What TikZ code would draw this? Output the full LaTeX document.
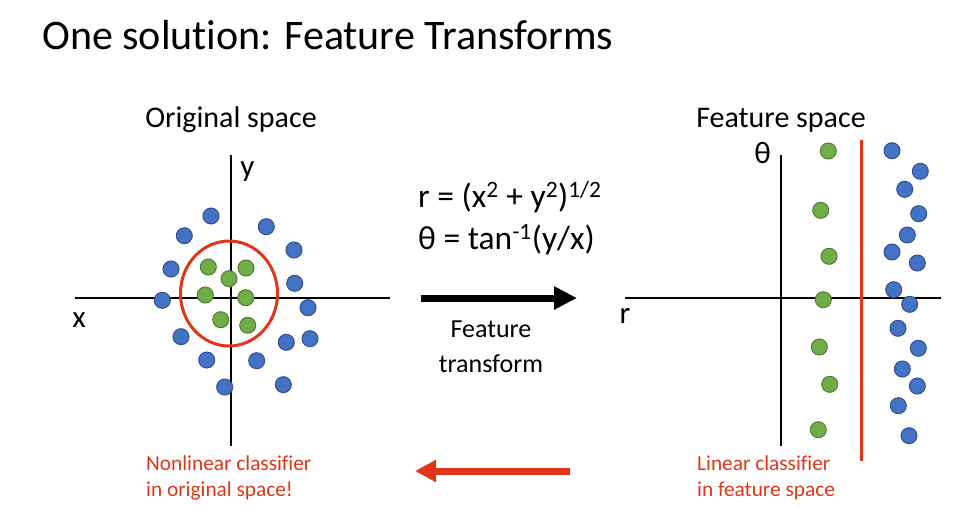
\documentclass[tikz,border=0pt]{standalone}
\usepackage{fontspec}
\setmainfont{Carlito}[RawFeature={-liga;-clig;-calt;-dlig}]
\usepackage{xcolor}
\usepackage{tikz}
\usetikzlibrary{positioning,arrows.meta}

\definecolor{dotblue}{RGB}{68,114,196}
\definecolor{dotblueline}{RGB}{47,82,143}
\definecolor{dotgreen}{RGB}{112,173,71}
\definecolor{dotgreenline}{RGB}{80,126,50}
\definecolor{clsred}{RGB}{226,52,24}

\tikzset{
  axis/.style={line width=2pt, black},
  bluedot/.style={fill=dotblue, draw=dotblueline, line width=1pt},
  greendot/.style={fill=dotgreen, draw=dotgreenline, line width=1pt},
  axlabel/.style={anchor=base, font=\fontsize{31}{35}\selectfont},
  heading/.style={anchor=base, font=\fontsize{30}{34}\selectfont},
  redtext/.style={anchor=west, align=left, text=clsred, font=\fontsize{21.3}{26.5}\selectfont},
}

\begin{document}
\begin{tikzpicture}[x=1pt, y=-1pt]
                \useasboundingbox (0,0) rectangle (965,508);
                \node[anchor=base west, font=\fontsize{42}{46}\selectfont, inner sep=0] (title) at (42,50) {One solution: Feature Transforms};
                \node[heading] (origlbl) at (231,128) {Original space};
                \node[heading] (featlbl) at (781,127) {Feature space};

                \coordinate (xl) at (75,298);
                \coordinate (xr) at (390,298);
                \coordinate (yt) at (231,155);
                \coordinate (yb) at (231,446);
                \draw[axis] (xl) -- (xr);
                \draw[axis] (yt) -- (yb);
                \node[axlabel] (xlbl) at (79,327) {x};
                \node[axlabel] (ylbl) at (247.5,176) {y};

                \foreach \px/\py in {211/216, 184.3/235.7, 266.3/226.7, 294/250, 171/269, 294.7/283.3, 162.3/300.3, 308/307.7, 181/336.7, 310/338.7, 286.3/342.3, 206.7/360, 256.7/360.7, 224.7/387, 283.3/384.7}
                  \draw[bluedot] (\px,\py) circle (8pt);
                \foreach \px/\py in {208.3/267, 246/268, 229/278.7, 205.3/295, 245.7/297.7, 220.7/319.7, 247.7/325.3}
                  \draw[greendot] (\px,\py) circle (8pt);
                \draw[clsred, line width=3pt] (229,293.5) ellipse [x radius=48.5pt, y radius=52.5pt];

                \coordinate (rl) at (625,298);
                \coordinate (rr) at (941,298);
                \coordinate (tt) at (781,155);
                \coordinate (tb) at (781,446);
                \draw[axis] (rl) -- (rr);
                \draw[axis] (tt) -- (tb);
                \node[axlabel] (rlbl) at (625,323) {r};
                \node[axlabel] (tlbl) at (762.5,163.5) {θ};

                \coordinate (sepTop) at (861,140);
                \coordinate (sepBot) at (861,461);
                \draw[clsred, line width=3pt] (sepTop) -- (sepBot);
                \foreach \px/\py in {828.3/151, 820.7/210.3, 829/256.3, 823.3/299.7, 819.3/347, 829.7/384.3, 818.3/429.7}
                  \draw[greendot] (\px,\py) circle (8pt);
                \foreach \px/\py in {892/150.7, 920.3/171.3, 904.7/189.3, 918.7/213.7, 907.3/235, 892/252, 917.3/263, 893.7/289.7, 909.7/304.3, 898/328.3, 918.3/348.3, 902.3/369, 917.3/386, 898.3/405.7, 909/435.7}
                  \draw[bluedot] (\px,\py) circle (8pt);

                \node[anchor=base west, font=\fontsize{33.5}{37}\selectfont, inner sep=0] (eqr) at (418,207) {r = (x\textsuperscript{2} + y\textsuperscript{2})\textsuperscript{1/2}};
                \node[anchor=base west, font=\fontsize{33.5}{37}\selectfont, inner sep=0] (eqt) at (418,249) {θ = tan\textsuperscript{-1}(y/x)};

                \coordinate (ftStart) at (421,298);
                \coordinate (ftEnd) at (577,298);
                \draw[line width=7pt, -{Triangle[length=23pt,width=22pt]}] (ftStart) -- (ftEnd);
                \node[anchor=center, align=center, font=\fontsize{26}{35}\selectfont] (ftlbl) at (491,347) {Feature\\transform};

                \coordinate (backStart) at (570,471);
                \coordinate (backEnd) at (415,471);
                \draw[clsred, line width=7pt, -{Triangle[length=21pt,width=21pt]}] (backStart) -- (backEnd);
                \node[redtext, inner sep=0] (nonlin) at (146,478) {Nonlinear classifier\\in original space!};
                \node[redtext, inner sep=0] (lin) at (697,478) {Linear classifier\\in feature space};
            \end{tikzpicture}
\end{document}
